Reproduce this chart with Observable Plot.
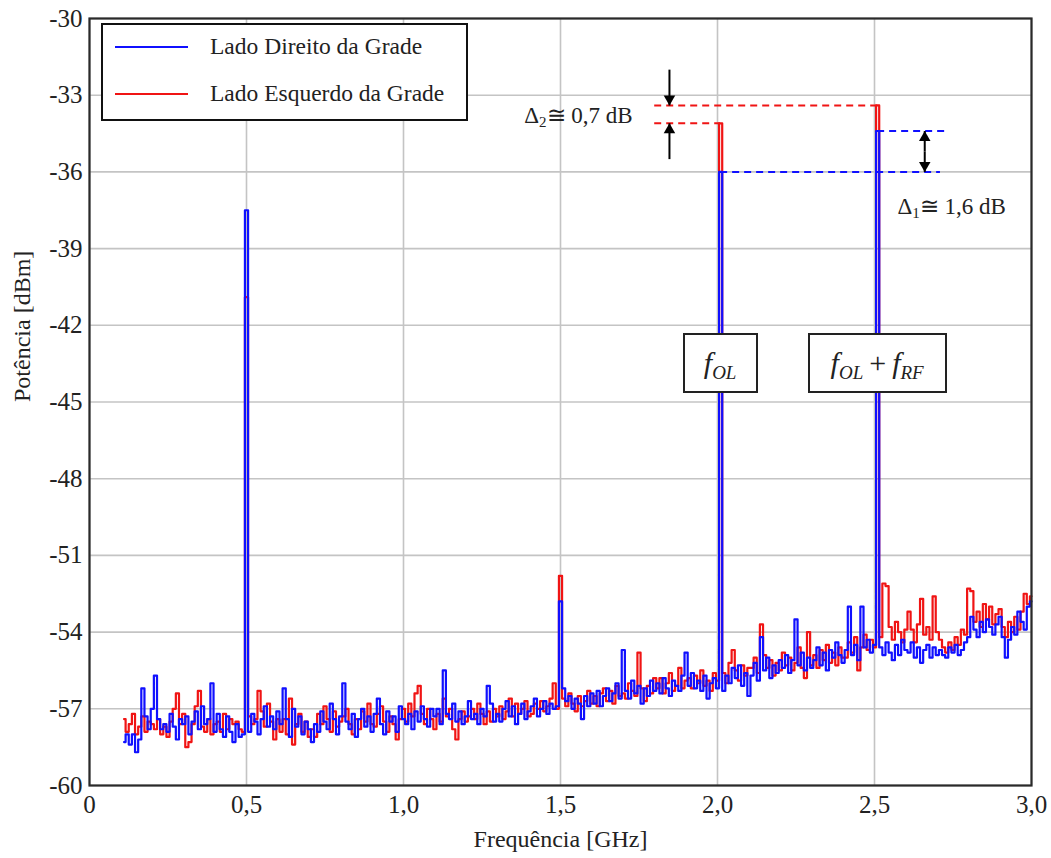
<!DOCTYPE html>
<html>
<head>
<meta charset="utf-8">
<script src="https://cdn.jsdelivr.net/npm/d3@7"></script>
<script src="https://cdn.jsdelivr.net/npm/@observablehq/plot@0.6"></script>
<style>
  body { margin: 0; background: #fff; }
  #chart { position: relative; width: 1051px; height: 858px; font-family: "Liberation Serif", "Times New Roman", serif; color: #222; }
  #chart svg { display: block; font-family: "Liberation Serif", "Times New Roman", serif !important; }
  #chart svg text { font-family: "Liberation Serif", "Times New Roman", serif !important; }
  .legend { position: absolute; box-sizing: border-box; border: 2.5px solid #111; background: #fff; }
  .legend .item { position: absolute; left: 0; right: 0; height: 0; }
  .legend .swatch { position: absolute; left: 12px; width: 73px; height: 0; border-top: 2.5px solid; top: -1px; }
  .legend .name { position: absolute; left: 107px; top: -15px; font-size: 23.5px; white-space: nowrap; line-height: 28px; }
  .fbox { position: absolute; box-sizing: border-box; border: 2px solid #222; background: #fff; display: flex; align-items: center; justify-content: center; font-size: 30px; white-space: nowrap; }
  .fbox i { font-style: italic; }
  .fbox sub { font-size: 19px; font-style: italic; vertical-align: -6px; line-height: 0; }
  .fbox .op { margin: 0 6px; }
  .delta { position: absolute; font-size: 23px; white-space: nowrap; line-height: 26px; }
  .delta sub { font-size: 15px; vertical-align: -4px; line-height: 0; }
</style>
</head>
<body>
<div id="chart"></div>
<script>
// Spectrum analyser sweep: one bin every 10 MHz from 0.11 GHz to 3.00 GHz
const fStart = 0.11;
const fStep = 0.01;

const seriesNames = ["Lado Direito da Grade", "Lado Esquerdo da Grade"];
const seriesColors = ["#1010ff", "#f01414"];

// Lado Direito da Grade (dBm), one row per 100 MHz
const ladoDireito = [
  -58.3, -58.0, -58.4, -58.0, -58.7, -58.2, -56.2, -57.3, -57.8, -57.0,
  -55.7, -57.4, -57.8, -57.6, -57.9, -57.2, -57.7, -58.2, -57.4, -57.6,
  -57.3, -58.0, -57.5, -57.1, -57.8, -56.9, -57.6, -57.4, -56.0, -57.9,
  -57.2, -57.8, -58.1, -57.3, -57.9, -58.3, -57.6, -58.1, -58.0, -37.5,
  -57.9, -57.2, -57.5, -58.0, -57.4, -56.9, -57.7, -57.3, -57.8, -57.1,
  -57.6, -56.2, -57.4, -58.1, -57.0, -57.7, -57.3, -58.0, -57.5, -57.8,
  -58.3, -57.6, -57.9, -57.1, -57.5, -57.8, -56.8, -57.4, -58.0, -57.3,
  -56.0, -57.5, -57.8, -57.2, -58.1, -57.4, -57.0, -57.7, -57.3, -57.9,
  -57.2, -56.6, -57.6, -58.0, -57.1, -57.5, -57.3, -57.9, -56.9, -57.4,
  -57.6, -57.2, -57.8, -57.1, -57.5, -56.9, -57.4, -57.7, -57.0, -57.3,
  -57.0, -57.6, -55.5, -57.2, -57.4, -56.8, -57.5, -57.1, -57.6, -57.3,
  -56.7, -57.4, -57.2, -57.6, -57.0, -57.3, -56.1, -56.8, -57.5, -57.2,
  -57.5, -57.0, -56.7, -57.3, -56.9, -57.6, -57.2, -56.8, -57.4, -57.1,
  -56.9, -56.6, -57.3, -57.0, -56.7, -57.2, -56.8, -57.0, -56.9, -52.8,
  -56.2, -56.7, -56.5, -57.0, -56.6, -56.8, -57.4, -56.5, -56.9, -56.4,
  -56.8, -56.3, -56.9, -56.5, -56.2, -56.7, -56.4, -56.0, -56.6, -54.7,
  -56.3, -56.6, -55.9, -56.4, -56.1, -56.8, -56.2, -56.5, -55.9, -56.3,
  -56.0, -56.4, -55.8, -56.2, -56.5, -55.9, -56.1, -56.3, -55.7, -54.8,
  -56.1, -55.6, -56.2, -55.9, -56.3, -55.7, -56.6, -56.0, -55.8, -56.2,
  -36.0, -56.3, -55.7, -56.0, -55.4, -55.8, -55.3, -56.1, -55.6, -56.5,
  -55.7, -55.2, -55.9, -54.2, -55.5, -55.0, -55.8, -55.3, -55.6, -55.1,
  -55.4, -54.9, -55.6, -55.1, -53.5, -55.3, -54.8, -55.5, -55.0, -55.4,
  -55.1, -54.6, -55.3, -54.8, -55.5, -54.7, -55.0, -54.4, -54.9, -55.2,
  -54.7, -53.0, -54.9, -54.5, -55.1, -53.0, -54.6, -54.3, -54.8, -54.5,
  -34.4, -54.6, -54.9, -54.4, -54.8, -55.1, -54.5, -54.9, -54.3, -54.7,
  -54.8, -54.4, -55.0, -54.6, -55.2, -54.7, -54.5, -55.0, -54.6, -54.9,
  -54.7, -54.9, -55.0, -54.6, -54.8, -54.5, -54.9, -54.7, -54.4, -54.2,
  -53.4, -53.9, -54.2, -53.6, -54.0, -53.5, -53.8, -54.1, -53.7, -53.4,
  -54.2, -55.0, -54.3, -53.8, -54.1, -53.2, -53.6, -53.9, -53.0, -52.8
];

// Lado Esquerdo da Grade (dBm), same bins
const ladoEsquerdo = [
  -57.4, -57.9, -57.6, -57.2, -58.0, -57.7, -57.3, -57.9, -57.5, -57.6,
  -57.8, -57.4, -58.0, -57.7, -58.1, -57.5, -57.0, -56.4, -57.6, -57.2,
  -58.5, -58.3, -57.6, -56.9, -56.3, -57.7, -57.9, -57.4, -58.0, -57.6,
  -57.5, -57.9, -57.2, -57.8, -57.4, -57.6, -57.5, -57.8, -57.9, -40.9,
  -57.3, -57.6, -57.4, -56.3, -57.1, -57.7, -56.8, -57.5, -58.2, -57.4,
  -57.9, -57.4, -58.0, -56.6, -58.4, -57.6, -57.2, -57.9, -57.5, -58.1,
  -57.8, -58.1, -57.2, -57.6, -56.9, -57.4, -57.9, -57.1, -57.7, -57.5,
  -57.3, -57.0, -57.6, -58.0, -57.4, -57.8, -57.1, -57.5, -56.8, -57.6,
  -57.7, -57.2, -56.9, -57.5, -57.9, -57.3, -57.6, -58.2, -57.4, -57.0,
  -57.5, -56.8, -57.3, -56.4, -56.1, -57.2, -57.6, -57.0, -57.4, -57.8,
  -57.2, -57.5, -56.6, -57.3, -57.0, -57.8, -58.2, -57.4, -57.1, -57.5,
  -57.3, -57.0, -57.4, -56.8, -57.2, -57.6, -57.1, -57.5, -57.0, -57.3,
  -56.9, -57.4, -57.1, -56.6, -57.3, -56.8, -57.2, -57.0, -56.7, -57.3,
  -57.2, -56.8, -57.0, -56.7, -57.1, -56.9, -56.6, -56.0, -57.0, -51.8,
  -56.6, -56.9, -56.4, -56.8, -57.1, -56.5, -56.9, -56.7, -56.3, -56.8,
  -56.5, -56.9, -56.4, -56.2, -56.7, -56.3, -56.8, -56.1, -56.5, -56.4,
  -56.6, -56.0, -56.3, -56.5, -54.8, -56.2, -56.7, -56.1, -56.4, -55.8,
  -56.2, -55.8, -56.4, -56.0, -55.6, -56.3, -56.1, -55.4, -56.2, -55.9,
  -55.8, -56.2, -55.7, -56.0, -55.5, -56.1, -55.9, -56.3, -55.6, -55.9,
  -34.1, -55.6, -56.0, -55.2, -54.7, -55.5, -55.9, -55.3, -55.7, -55.4,
  -55.4, -55.0, -55.6, -53.7, -54.9, -55.4, -55.1, -55.7, -55.2, -55.5,
  -54.8, -55.3, -55.0, -55.5, -55.2, -54.6, -55.4, -55.8, -54.0, -55.3,
  -54.9, -55.4, -54.7, -55.1, -54.5, -55.2, -54.8, -55.3, -54.6, -55.0,
  -55.0, -54.4, -54.8, -54.2, -55.5, -54.6, -54.1, -54.7, -54.3, -54.6,
  -33.4, -54.2, -52.1, -52.2, -53.8, -54.3, -53.6, -54.0, -54.4, -53.9,
  -53.2, -53.9, -54.4, -53.7, -52.7, -54.1, -53.8, -54.3, -52.6, -54.0,
  -54.3, -54.6, -54.8, -54.4, -54.7, -54.2, -54.5, -53.9, -54.1, -52.3,
  -52.4, -53.6, -53.2, -53.8, -52.9, -53.5, -53.0, -53.7, -53.3, -53.1,
  -53.8, -54.2, -53.6, -54.0, -53.4, -53.9, -53.2, -52.5, -52.9, -52.6
];

// Axis ticks
const xTicks = [0, 0.5, 1.0, 1.5, 2.0, 2.5, 3.0];
const yTicks = [-60, -57, -54, -51, -48, -45, -42, -39, -36, -33, -30];

// Carrier peaks that are compared: f_OL (2.01 GHz) and f_OL + f_RF (2.51 GHz)
const fOL = 2.01;
const fOLRF = 2.51;
const peakEsquerdoOL = -34.1, peakEsquerdoOLRF = -33.4;   // Δ2 ≅ 0,7 dB
const peakDireitoOL = -36.0, peakDireitoOLRF = -34.4;     // Δ1 ≅ 1,6 dB

const toRows = (vals, serie) => vals.map((p, i) => ({f: +(fStart + i * fStep).toFixed(2), p, serie}));
const rowsDireito = toRows(ladoDireito, seriesNames[0]);
const rowsEsquerdo = toRows(ladoEsquerdo, seriesNames[1]);

// Dashed reference levels drawn from the peak values
const guides = [
  {x1: 1.80, x2: fOL,   y: peakEsquerdoOL,   c: seriesColors[1]},
  {x1: 1.80, x2: fOLRF, y: peakEsquerdoOLRF, c: seriesColors[1]},
  {x1: fOL,  x2: 2.71,  y: peakDireitoOL,    c: seriesColors[0]},
  {x1: fOLRF, x2: 2.73, y: peakDireitoOLRF,  c: seriesColors[0]}
];

// Dimension arrows (shaft start -> head tip)
const arrows = [
  {x: 1.847, from: -32.0, to: peakEsquerdoOLRF},
  {x: 1.847, from: -35.5, to: peakEsquerdoOL},
  {x: 2.66, from: (peakDireitoOL + peakDireitoOLRF) / 2, to: peakDireitoOLRF},
  {x: 2.66, from: (peakDireitoOL + peakDireitoOLRF) / 2, to: peakDireitoOL}
];
const headR = 5.5;
const headS = Math.sqrt(Math.PI) * headR * 0.6824;

const fmtX = d => d === 0 ? "0" : d.toFixed(1).replace(".", ",");
const serif = "Liberation Serif";

const chart = Plot.plot({
  width: 1051,
  height: 858,
  marginLeft: 89,
  marginRight: 20,
  marginTop: 18,
  marginBottom: 73,
  style: {fontFamily: serif, fontSize: "25px", color: "#222", background: "#fff"},
  x: {domain: [0, 3], label: null},
  y: {domain: [-60, -30], label: null},
  marks: [
    Plot.gridX(xTicks, {stroke: "#c4c4c4", strokeOpacity: 1, strokeWidth: 1.6}),
    Plot.gridY(yTicks, {stroke: "#c4c4c4", strokeOpacity: 1, strokeWidth: 1.6}),
    Plot.line(rowsEsquerdo, {x: "f", y: "p", curve: "step", stroke: seriesColors[1], strokeWidth: 2.2}),
    Plot.line(rowsDireito, {x: "f", y: "p", curve: "step", stroke: seriesColors[0], strokeWidth: 2.2}),
    Plot.ruleY(guides, {y: "y", x1: "x1", x2: "x2", stroke: "c", strokeWidth: 2, strokeDasharray: "7,5"}),
    Plot.link(arrows, {x1: "x", x2: "x", y1: "from", y2: "to", stroke: "#000", strokeWidth: 2}),
    Plot.dot(arrows.filter(a => a.to < a.from), {x: "x", y: "to", symbol: "triangle2", r: headR, fill: "#000", stroke: "none", rotate: 180, dy: -headS}),
    Plot.dot(arrows.filter(a => a.to > a.from), {x: "x", y: "to", symbol: "triangle2", r: headR, fill: "#000", stroke: "none", dy: headS}),
    Plot.frame({stroke: "#2a2a2a", strokeWidth: 2.2}),
    Plot.axisX(xTicks, {tickSize: 0, tickPadding: 10, tickFormat: fmtX, label: null, fontFamily: serif}),
    Plot.axisY(yTicks, {tickSize: 0, tickPadding: 7, tickFormat: d => String(d), label: null, fontFamily: serif}),
    Plot.text(["Frequência [GHz]"], {frameAnchor: "bottom", dy: 61, fontSize: 24, fontFamily: serif}),
    Plot.text(["Potência [dBm]"], {frameAnchor: "left", dx: -67, rotate: -90, fontSize: 24, fontFamily: serif})
  ]
});

const root = document.getElementById("chart");
root.appendChild(chart);
const sx = chart.scale("x"), sy = chart.scale("y");

// Legend
const legend = document.createElement("div");
legend.className = "legend";
Object.assign(legend.style, {left: "101px", top: "23px", width: "367px", height: "98px"});
seriesNames.forEach((name, i) => {
  const item = document.createElement("div");
  item.className = "item";
  item.style.top = (i === 0 ? 22 : 69) + "px";
  const sw = document.createElement("div");
  sw.className = "swatch";
  sw.style.borderTopColor = seriesColors[i];
  const tx = document.createElement("div");
  tx.className = "name";
  tx.textContent = name;
  item.append(sw, tx);
  legend.appendChild(item);
});
root.appendChild(legend);

// Frequency labels boxed over the two carrier lines
const boxY = -43.5;
function fBox(f, w, html) {
  const b = document.createElement("div");
  b.className = "fbox";
  const cx = sx.apply(f), cy = sy.apply(boxY);
  Object.assign(b.style, {left: (cx - w / 2) + "px", top: (cy - 30) + "px", width: w + "px", height: "60px"});
  b.innerHTML = html;
  root.appendChild(b);
}
fBox(fOL, 75, "<span><i>f</i><sub>OL</sub></span>");
fBox(fOLRF, 139, "<span><i>f</i><sub>OL</sub><span class='op'>+</span><i>f</i><sub>RF</sub></span>");

// Difference labels
function delta(html, x, y, anchor) {
  const d = document.createElement("div");
  d.className = "delta";
  d.innerHTML = html;
  root.appendChild(d);
  const px = sx.apply(x), py = sy.apply(y);
  const w = d.offsetWidth;
  d.style.left = (anchor === "end" ? px - w : px) + "px";
  d.style.top = (py - 13) + "px";
}
const d2 = (peakEsquerdoOLRF - peakEsquerdoOL).toFixed(1).replace(".", ",");
const d1 = (peakDireitoOLRF - peakDireitoOL).toFixed(1).replace(".", ",");
delta(`Δ<sub>2</sub>≅ ${d2} dB`, 1.73, (peakEsquerdoOL + peakEsquerdoOLRF) / 2 - 0.1, "end");
delta(`Δ<sub>1</sub>≅ ${d1} dB`, 2.575, -37.4, "start");
</script>
</body>
</html>
